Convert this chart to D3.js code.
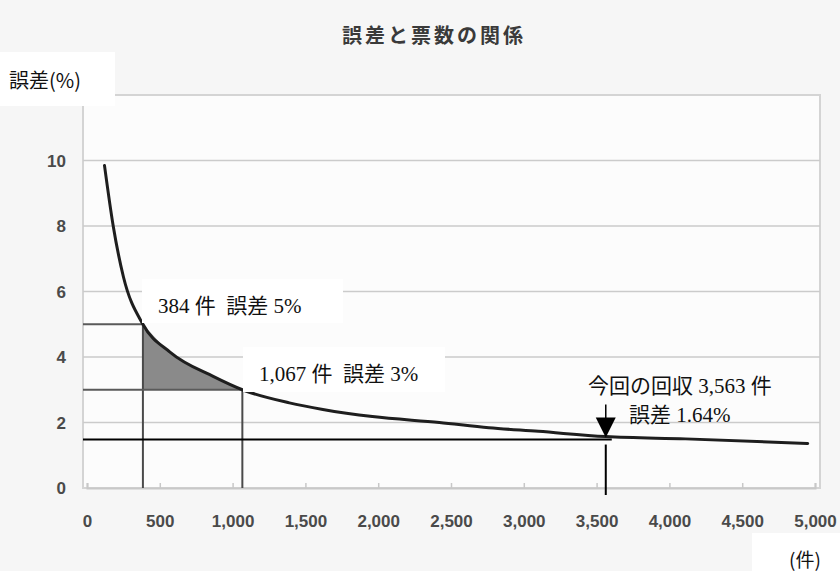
<!DOCTYPE html>
<html>
<head>
<meta charset="utf-8">
<script src="https://cdn.jsdelivr.net/npm/d3@7"></script>
<style>
  body { margin: 0; background: #f5f5f5; }
  .tick-label { font-family: "Liberation Sans", Arial, sans-serif; font-weight: bold; font-size: 17px; fill: #4a4a4a; }
  .note { font-family: "Liberation Serif", "Noto Sans CJK JP", serif; font-size: 21px; fill: #111; }
</style>
</head>
<body>
<div id="wrapper"></div>
<script>
// DATA
const SAMPLE_SIZES = [120, 180, 250, 384, 570, 870, 1067, 1390, 1620, 1960, 2420, 2760, 3100, 3563, 4110, 4950];
const ERROR_RATES = [9.85, 8.0, 6.45, 5.0, 4.15, 3.4, 3.0, 2.6, 2.4, 2.18, 2.0, 1.84, 1.73, 1.57, 1.5, 1.36];
const X_TICKS = [0, 500, 1000, 1500, 2000, 2500, 3000, 3500, 4000, 4500, 5000];
const Y_TICKS = [0, 2, 4, 6, 8, 10];
const GRID_VALUES = [2, 4, 6, 8, 10];
const MARK_SIZES = [384, 1067];
const MARK_ERRORS = [5, 3];
const MARK_LABELS = [`384 件  誤差 5%`, `1,067 件  誤差 3%`];
const CURRENT_SIZE = 3563;
const CURRENT_LINE = 1.48;
const CURRENT_LABELS = [`今回の回収 3,563 件`, `誤差 1.64%`];
const TITLE = `誤差と票数の関係`;
const Y_TITLE = `誤差(%)`;
const X_TITLE = `(件)`;

// LAYOUT
const W = 840;
const H = 571;
const plot = { left: 83, right: 820, top: 95, bottom: 488 };

const svg = d3.select(`#wrapper`)
  .append(`svg`)
  .attr(`width`, W)
  .attr(`height`, H);

svg.append(`rect`)
  .attr(`width`, W)
  .attr(`height`, H)
  .attr(`fill`, `#f6f6f6`);

// SCALES
const xScale = d3.scaleLinear()
  .domain([0, 5000])
  .range([87, 815]);

const yScale = d3.scaleLinear()
  .domain([0, 12])
  .range([plot.bottom, plot.top]);

const points = SAMPLE_SIZES.map((n, i) => ({ n, err: ERROR_RATES[i] }));

// PLOT FRAME
svg.append(`rect`)
  .attr(`x`, plot.left)
  .attr(`y`, plot.top)
  .attr(`width`, plot.right - plot.left)
  .attr(`height`, plot.bottom - plot.top)
  .attr(`fill`, `#fcfcfc`)
  .attr(`stroke`, `#d4d4d4`)
  .attr(`stroke-width`, 2);

svg.selectAll(`.grid`)
  .data(GRID_VALUES)
  .enter()
  .append(`line`)
  .attr(`class`, `grid`)
  .attr(`x1`, plot.left)
  .attr(`x2`, plot.right)
  .attr(`y1`, d => yScale(d))
  .attr(`y2`, d => yScale(d))
  .attr(`stroke`, `#cbcbcb`)
  .attr(`stroke-width`, 1.6);

// AXIS
const xAxis = d3.axisBottom(xScale)
  .tickValues(X_TICKS)
  .tickSize(-5)
  .tickFormat(d3.format(`,`));

const customXAxis = g => {
  g.call(xAxis)
    .select(`.domain`)
    .attr(`stroke`, `#c8c8c8`)
    .attr(`stroke-width`, 2);
  g.selectAll(`.tick line`)
    .attr(`stroke`, `#c8c8c8`)
    .attr(`stroke-width`, 1.5);
  g.selectAll(`.tick text`)
    .attr(`class`, `tick-label`)
    .attr(`y`, 27);
};

svg.append(`g`)
  .attr(`transform`, `translate(0, ${plot.bottom})`)
  .call(customXAxis);

const yAxis = d3.axisLeft(yScale)
  .tickValues(Y_TICKS)
  .tickSize(0);

const customYAxis = g => {
  g.call(yAxis)
    .select(`.domain`)
    .remove();
  g.selectAll(`.tick text`)
    .attr(`class`, `tick-label`)
    .attr(`x`, -17)
    .attr(`dy`, `0.35em`);
};

svg.append(`g`)
  .attr(`transform`, `translate(${plot.left}, 0)`)
  .call(customYAxis);

// SHADED AREA
const curve = d3.curveMonotoneX;
const shaded = points.filter(d => d.n >= MARK_SIZES[0] && d.n <= MARK_SIZES[1]);

svg.append(`path`)
  .datum(shaded)
  .attr(`d`, d3.area()
    .curve(curve)
    .x(d => xScale(d.n))
    .y0(yScale(MARK_ERRORS[1]))
    .y1(d => yScale(d.err)))
  .attr(`fill`, `#8a8a8a`);

// MARK LINES
MARK_SIZES.forEach((n, i) => {
  svg.append(`line`)
    .attr(`x1`, plot.left)
    .attr(`x2`, xScale(n))
    .attr(`y1`, yScale(MARK_ERRORS[i]))
    .attr(`y2`, yScale(MARK_ERRORS[i]))
    .attr(`stroke`, `#5a5a5a`)
    .attr(`stroke-width`, 2);
  svg.append(`line`)
    .attr(`x1`, xScale(n))
    .attr(`x2`, xScale(n))
    .attr(`y1`, yScale(MARK_ERRORS[i]))
    .attr(`y2`, yScale(0))
    .attr(`stroke`, `#4a4a4a`)
    .attr(`stroke-width`, 2);
});

// CURRENT LINE
svg.append(`line`)
  .attr(`x1`, plot.left)
  .attr(`x2`, xScale(CURRENT_SIZE) + 6)
  .attr(`y1`, yScale(CURRENT_LINE))
  .attr(`y2`, yScale(CURRENT_LINE))
  .attr(`stroke`, `#000`)
  .attr(`stroke-width`, 2);

svg.append(`line`)
  .attr(`x1`, xScale(CURRENT_SIZE))
  .attr(`x2`, xScale(CURRENT_SIZE))
  .attr(`y1`, yScale(CURRENT_LINE) + 5)
  .attr(`y2`, yScale(0) + 7)
  .attr(`stroke`, `#000`)
  .attr(`stroke-width`, 2);

// CURVE
svg.append(`path`)
  .datum(points)
  .attr(`d`, d3.line()
    .curve(curve)
    .x(d => xScale(d.n))
    .y(d => yScale(d.err)))
  .attr(`fill`, `none`)
  .attr(`stroke`, `#1e1e1e`)
  .attr(`stroke-width`, 3)
  .attr(`stroke-linecap`, `round`);

// ARROW
const tipX = xScale(CURRENT_SIZE);
const tipY = yScale(CURRENT_LINE) - 2;

svg.append(`line`)
  .attr(`x1`, tipX)
  .attr(`x2`, tipX)
  .attr(`y1`, tipY - 33)
  .attr(`y2`, tipY - 15)
  .attr(`stroke`, `#000`)
  .attr(`stroke-width`, 1.5);

svg.append(`path`)
  .attr(`d`, `M${tipX - 10},${tipY - 20}L${tipX + 10},${tipY - 20}L${tipX},${tipY}Z`)
  .attr(`fill`, `#000`);

// LABEL BOXES
const boxes = [
  { x: 142, y: 279, w: 201, h: 44 },
  { x: 243, y: 347, w: 202, h: 45 }
];

boxes.forEach((b, i) => {
  svg.append(`rect`)
    .attr(`x`, b.x)
    .attr(`y`, b.y)
    .attr(`width`, b.w)
    .attr(`height`, b.h)
    .attr(`fill`, `#fff`);
  svg.append(`text`)
    .attr(`class`, `note`)
    .attr(`xml:space`, `preserve`)
    .attr(`x`, b.x + 16)
    .attr(`y`, b.y + 34)
    .text(MARK_LABELS[i]);
});

svg.append(`text`)
  .attr(`class`, `note`)
  .attr(`x`, 588)
  .attr(`y`, 393)
  .attr(`font-size`, 20)
  .text(CURRENT_LABELS[0]);

svg.append(`text`)
  .attr(`class`, `note`)
  .attr(`x`, 629)
  .attr(`y`, 422)
  .attr(`font-size`, 20)
  .text(CURRENT_LABELS[1]);

// TITLES
svg.append(`text`)
  .attr(`x`, 434)
  .attr(`y`, 43)
  .attr(`text-anchor`, `middle`)
  .attr(`font-family`, `"Noto Sans CJK JP", sans-serif`)
  .attr(`font-weight`, `bold`)
  .attr(`font-size`, 20)
  .attr(`letter-spacing`, 3)
  .attr(`fill`, `#3a3a3a`)
  .text(TITLE);

svg.append(`rect`)
  .attr(`x`, 0)
  .attr(`y`, 52)
  .attr(`width`, 115)
  .attr(`height`, 54)
  .attr(`fill`, `#fff`);

svg.append(`text`)
  .attr(`x`, 9)
  .attr(`y`, 88)
  .attr(`font-family`, `"Noto Sans CJK JP", sans-serif`)
  .attr(`font-size`, 20)
  .attr(`fill`, `#111`)
  .text(Y_TITLE);

svg.append(`rect`)
  .attr(`x`, 752)
  .attr(`y`, 533)
  .attr(`width`, 88)
  .attr(`height`, 38)
  .attr(`fill`, `#fff`);

svg.append(`text`)
  .attr(`x`, 805)
  .attr(`y`, 567)
  .attr(`text-anchor`, `middle`)
  .attr(`font-family`, `"Noto Sans CJK JP", sans-serif`)
  .attr(`font-size`, 19)
  .attr(`fill`, `#111`)
  .text(X_TITLE);
</script>
</body>
</html>
